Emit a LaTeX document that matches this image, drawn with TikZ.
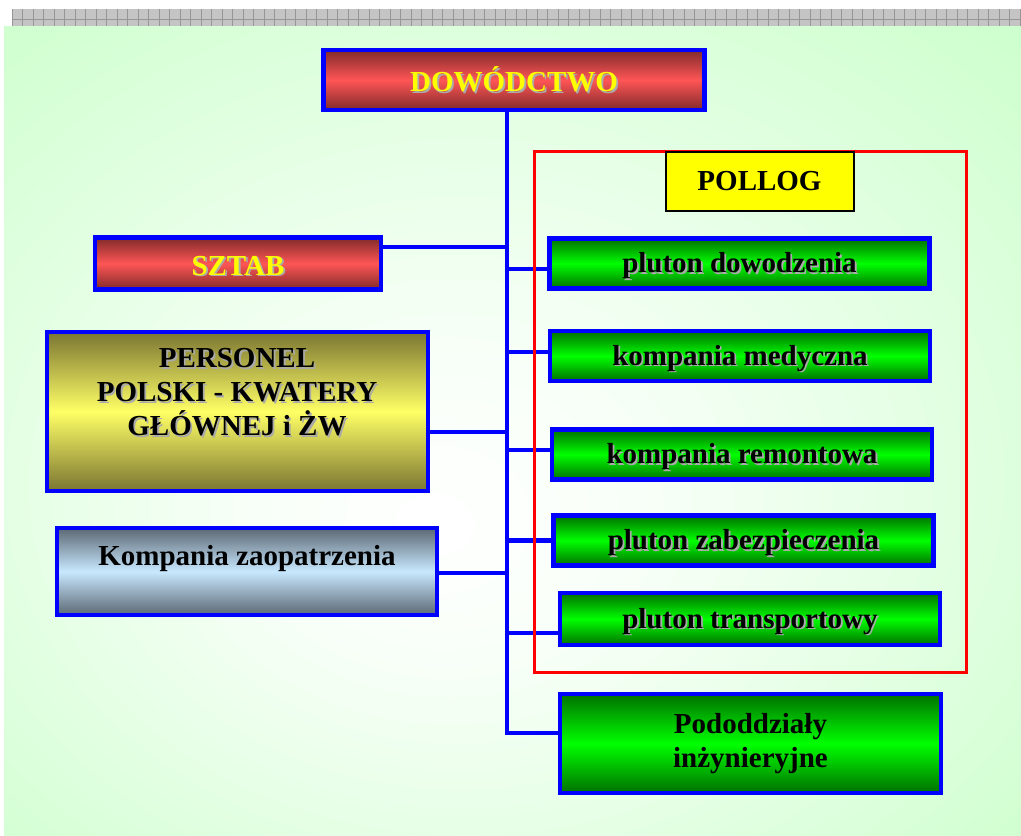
\documentclass[tikz,border=0pt]{standalone}
\usepackage{fontspec}
\setmainfont{Liberation Serif}
\usetikzlibrary{calc}
\definecolor{lgreen}{RGB}{204,255,204}
\colorlet{bgmid}{white!85!lgreen}
\definecolor{bandgray}{RGB}{196,196,196}
\definecolor{bandline}{RGB}{150,150,150}
\definecolor{boxblue}{RGB}{0,0,255}
\definecolor{redD}{RGB}{128,42,42}
\definecolor{redL}{RGB}{255,85,85}
\definecolor{grnD}{RGB}{0,112,0}
\definecolor{grnL}{RGB}{0,255,0}
\definecolor{oliveD}{RGB}{122,117,50}
\definecolor{oliveL}{RGB}{255,255,102}
\definecolor{slateD}{RGB}{92,104,116}
\definecolor{slateL}{RGB}{200,232,255}
\definecolor{shadowc}{RGB}{170,170,170}
\definecolor{txtyellow}{RGB}{255,255,0}
\definecolor{pollogyellow}{RGB}{255,255,0}
\pgfdeclareradialshading{bgrad}{\pgfpoint{-4bp}{-6bp}}{color(0bp)=(white); color(10bp)=(bgmid); color(38bp)=(lgreen); color(50bp)=(lgreen)}
\newcommand{\txtshadow}[1]{\leavevmode\rlap{\kern1.8pt\raisebox{-1.8pt}{\textcolor{shadowc}{#1}}}#1}
\newcommand{\lowered}[1]{\raisebox{-3pt}[\height][\depth]{#1}}
\tikzset{
  box/.style={draw=boxblue, line width=4.5pt, minimum width=380pt, inner sep=0pt,
    font=\bfseries\fontsize{29}{34}\selectfont, align=center},
  redbox/.style={box, top color=redD, bottom color=redD, middle color=redL, text=txtyellow},
  greenbox/.style={box, minimum height=50pt, top color=grnD, bottom color=grnD, middle color=grnL},
  olivebox/.style={box, top color=oliveD, bottom color=oliveD, middle color=oliveL},
  slatebox/.style={box, top color=slateD, bottom color=slateD, middle color=slateL},
  txt/.style={inner sep=0pt, font=\bfseries\fontsize{29}{34}\selectfont, align=center},
  conn/.style={draw=boxblue, line width=4.5pt},
}
\begin{document}
\begin{tikzpicture}[x=1pt,y=-1pt]
\useasboundingbox (0,0) rectangle (1021,836);
% background
\fill[white] (0,0) rectangle (1021,836);
\fill[bandgray] (12,9) rectangle (1021,26);
\foreach \x in {12,22.5,...,1021} \draw[bandline, line width=0.8pt] (\x,9) -- (\x,26);
\draw[bandline, line width=1pt] (12,19) -- (1021,19);
\fill[lgreen] (4,26) rectangle (1021,836);
\shade[shading=bgrad] (4,26) rectangle (1021,836);

% boxes
\node[redbox, minimum width=381pt, minimum height=60pt] (dow) at (514,80) {\txtshadow{DOWÓDCTWO}};
\node[redbox, minimum width=286pt, minimum height=52pt] (sztab) at (238,263.5) {\lowered{\txtshadow{SZTAB}}};
\node[olivebox, minimum width=381pt, minimum height=159pt] (pers) at (237.5,411.5) {};
\node[txt] (perstxt) at (237,393) {\txtshadow{PERSONEL}\\\txtshadow{POLSKI - KWATERY}\\\txtshadow{GŁÓWNEJ i ŻW}};
\node[slatebox, minimum height=87pt] (zaop) at (247,571.5) {};
\node[txt, anchor=base] (zaoptxt) at (247,565) {Kompania zaopatrzenia};

\node[greenbox] (pd) at (739.5,263.5) {\lowered{\txtshadow{pluton dowodzenia}}};
\node[greenbox] (km) at (740,356) {\lowered{\txtshadow{kompania medyczna}}};
\node[greenbox] (kr) at (742,454.5) {\lowered{\txtshadow{kompania remontowa}}};
\node[greenbox] (pz) at (743.5,540.5) {\lowered{\txtshadow{pluton zabezpieczenia}}};
\node[greenbox, minimum height=52pt] (pt) at (750,619) {\lowered{\txtshadow{pluton transportowy}}};
\node[greenbox, minimum width=381pt, minimum height=99pt] (pod) at (750.5,743.5) {Pododdziały\\inżynieryjne};

% connectors
\coordinate (t) at (507,110);
\coordinate (b1) at ([yshift=16.5pt]sztab.east);
\coordinate (b2) at ([yshift=-20.5pt]pers.east);
\coordinate (b3) at ([yshift=-1.5pt]zaop.east);
\coordinate (c1) at ([yshift=-5.5pt]pd.west);
\coordinate (c2) at ([yshift=4pt]km.west);
\coordinate (c3) at ([yshift=4.5pt]kr.west);
\coordinate (c4) at (pz.west);
\coordinate (c5) at ([yshift=-14pt]pt.west);
\coordinate (c6) at ([yshift=10.5pt]pod.west);
\draw[conn] (dow.south -| t) |- (c6);
\draw[conn] (b1) -- (b1 -| t);
\draw[conn] (b2) -- (b2 -| t);
\draw[conn] (b3) -- (b3 -| t);
\foreach \c in {c1,c2,c3,c4,c5} \draw[conn] (t |- \c) -- (\c);

% POLLOG frame
\node[draw=red, line width=3pt, minimum width=432pt, minimum height=521pt, inner sep=0pt] (frame) at (750.5,412) {};
\node[draw=black, line width=2pt, fill=pollogyellow, minimum width=188pt, minimum height=59pt, txt] (pollog) at (759.5,181) {POLLOG};
\end{tikzpicture}
\end{document}
